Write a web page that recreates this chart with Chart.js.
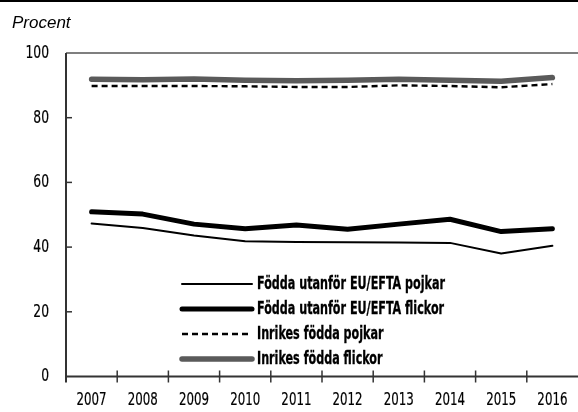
<!DOCTYPE html>
<html><head><meta charset="utf-8">
<script src="https://cdn.jsdelivr.net/npm/chart.js@4"></script>
<style>html,body{margin:0;padding:0;background:#fff}#wrap{width:578px;height:412px;position:relative}</style>
</head><body><div id="wrap"><canvas id="c" width="578" height="412"></canvas></div>
<script>
const years = ['2007','2008','2009','2010','2011','2012','2013','2014','2015','2016'];
const utanforPojkar  = [47.3, 45.9, 43.6, 41.8, 41.6, 41.5, 41.4, 41.3, 38.0, 40.4];
const utanforFlickor = [50.9, 50.2, 47.1, 45.7, 46.8, 45.5, 47.1, 48.6, 44.8, 45.7];
const inrikesPojkar  = [89.8, 89.8, 89.8, 89.7, 89.5, 89.5, 90.0, 89.8, 89.4, 90.4];
const inrikesFlickor = [91.9, 91.7, 92.0, 91.6, 91.4, 91.6, 91.9, 91.6, 91.3, 92.4];
const seriesLabels = ['Födda utanför EU/EFTA pojkar','Födda utanför EU/EFTA flickor','Inrikes födda pojkar','Inrikes födda flickor'];
const yTickValues = [0, 20, 40, 60, 80, 100];
const yAxisTitle = 'Procent';

const COND = "'Liberation Sans Narrow','DejaVu Sans Condensed','Roboto Condensed','Arial Narrow',sans-serif";

function narrowText(ctx, text, x, y, align, font, sx, stroke) {
  ctx.save();
  ctx.translate(x, y);
  ctx.scale(sx, 1);
  ctx.font = font;
  ctx.textAlign = align;
  ctx.textBaseline = 'middle';
  ctx.fillStyle = '#000';
  ctx.fillText(text, 0, 0);
  if (stroke) {
    ctx.strokeStyle = '#000';
    ctx.lineWidth = stroke;
    ctx.strokeText(text, 0, 0);
  }
  ctx.restore();
}

const decor = {
  id: 'decor',
  beforeDraw(chart) {
    const ctx = chart.ctx;
    ctx.save();
    ctx.fillStyle = '#fff';
    ctx.fillRect(0, 0, chart.width, chart.height);
    ctx.restore();
  },
  afterDraw(chart) {
    const ctx = chart.ctx;
    const ca = chart.chartArea;
    const xs = chart.scales.x, ys = chart.scales.y;
    ctx.save();
    // top rule
    ctx.fillStyle = '#000';
    ctx.fillRect(0, 0, chart.width, 2);
    // axis title
    ctx.fillStyle = '#000';
    ctx.font = "italic 17px 'Liberation Sans', Arial, sans-serif";
    ctx.textBaseline = 'alphabetic';
    ctx.textAlign = 'left';
    ctx.fillText(yAxisTitle, 12, 28);
    // frame line at max
    const yTop = ys.getPixelForValue(100);
    ctx.strokeStyle = '#555';
    ctx.lineWidth = 1.5;
    ctx.beginPath(); ctx.moveTo(ca.left, yTop); ctx.lineTo(chart.width, yTop); ctx.stroke();
    // axes
    ctx.strokeStyle = '#333';
    ctx.lineWidth = 2;
    ctx.beginPath(); ctx.moveTo(ca.left, yTop); ctx.lineTo(ca.left, ca.bottom + 6); ctx.stroke();
    ctx.beginPath(); ctx.moveTo(ca.left, ca.bottom); ctx.lineTo(chart.width, ca.bottom); ctx.stroke();
    // y ticks inward
    ctx.lineWidth = 1.5;
    yTickValues.forEach(v => {
      if (v === 0 || v === 100) return;
      const y = ys.getPixelForValue(v);
      ctx.beginPath(); ctx.moveTo(ca.left, y); ctx.lineTo(ca.left + 6, y); ctx.stroke();
    });
    // x ticks between categories
    for (let i = 1; i < years.length; i++) {
      const x = (xs.getPixelForValue(i - 1) + xs.getPixelForValue(i)) / 2;
      ctx.beginPath(); ctx.moveTo(x, ca.bottom - 6); ctx.lineTo(x, ca.bottom + 6); ctx.stroke();
    }
    // tick labels (condensed), positioned by the scales
    const tickFont = "18.5px " + COND;
    xs.ticks.forEach((t, i) => {
      narrowText(ctx, xs.getLabelForValue(t.value), xs.getPixelForTick(i), 400, 'center', tickFont, 0.71, 0.2);
    });
    ys.ticks.forEach(t => {
      narrowText(ctx, String(t.value), 49, ys.getPixelForValue(t.value), 'right', tickFont, 0.74, 0.2);
    });
    // legend
    const lx0 = 182, lx1 = 252, tx = 257;
    const rows = [284, 309, 334, 359];
    chart.data.datasets.forEach((ds, i) => {
      const y = rows[i];
      ctx.strokeStyle = ds.borderColor;
      ctx.lineWidth = ds.borderWidth;
      ctx.lineCap = ds.borderDash && ds.borderDash.length ? 'butt' : 'round';
      ctx.setLineDash(ds.borderDash || []);
      ctx.beginPath(); ctx.moveTo(lx0, y); ctx.lineTo(lx1, y); ctx.stroke();
      ctx.setLineDash([]);
      narrowText(ctx, ds.label, tx, y + 1, 'left', "bold 17px " + COND, 0.73, 0.3);
    });
    ctx.restore();
  }
};

const common = { pointRadius: 0, pointHoverRadius: 0, tension: 0, fill: false, borderCapStyle: 'round', borderJoinStyle: 'round' };

new Chart(document.getElementById('c'), {
  type: 'line',
  data: {
    labels: years,
    datasets: [
      Object.assign({ label: seriesLabels[0], data: utanforPojkar, borderColor: '#000', borderWidth: 2 }, common),
      Object.assign({ label: seriesLabels[1], data: utanforFlickor, borderColor: '#000', borderWidth: 5 }, common),
      Object.assign({ label: seriesLabels[2], data: inrikesPojkar, borderColor: '#000', borderWidth: 2.4, borderDash: [6, 4] }, common, { borderCapStyle: 'butt' }),
      Object.assign({ label: seriesLabels[3], data: inrikesFlickor, borderColor: '#5a5a5a', borderWidth: 5.5 }, common)
    ]
  },
  options: {
    responsive: false,
    animation: false,
    devicePixelRatio: 1,
    layout: { padding: { top: 53, right: 0, bottom: 0, left: 0 } },
    plugins: { legend: { display: false }, tooltip: { enabled: false }, title: { display: false } },
    scales: {
      x: {
        type: 'category',
        offset: true,
        grid: { display: false, drawTicks: false },
        border: { display: false },
        ticks: { display: false, autoSkip: false },
        afterFit(scale) { scale.height = 35.5; }
      },
      y: {
        min: 0, max: 100,
        afterBuildTicks(scale) { scale.ticks = yTickValues.map(v => ({ value: v })); },
        grid: { display: false, drawTicks: false },
        border: { display: false },
        ticks: { display: false },
        afterFit(scale) { scale.width = 66; }
      }
    }
  },
  plugins: [decor]
});
</script>
</body></html>
